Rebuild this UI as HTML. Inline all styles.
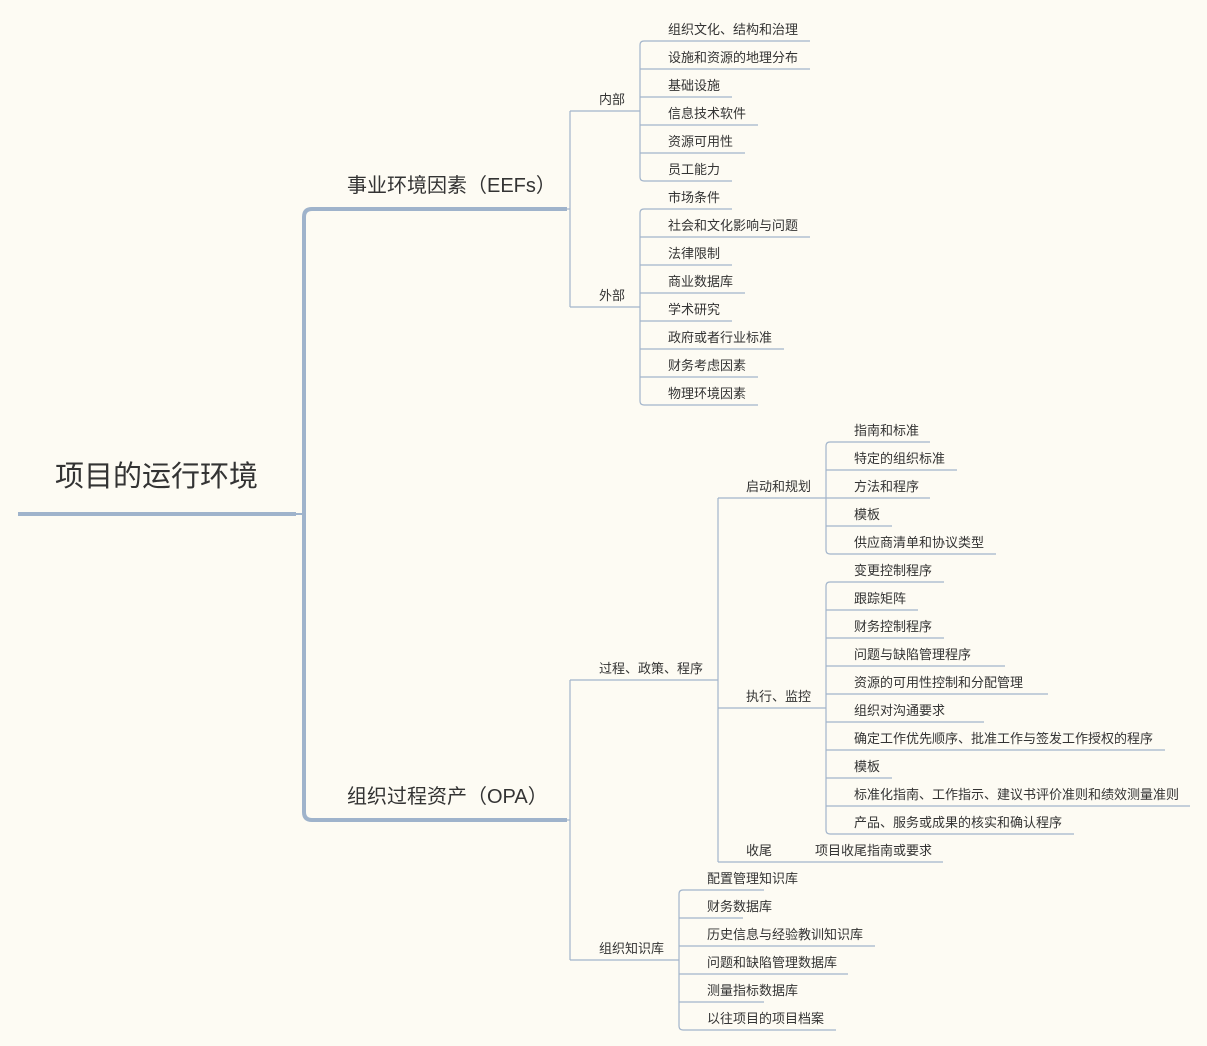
<!DOCTYPE html>
<html><head><meta charset="utf-8"><style>
html,body{margin:0;padding:0;background:#fdfbf3}
svg{display:block}
text{font-family:"Liberation Sans","Noto Sans CJK SC",sans-serif;fill:#333}
</style></head><body>
<svg width="1207" height="1046" viewBox="0 0 1207 1046" xmlns="http://www.w3.org/2000/svg">
<rect width="1207" height="1046" fill="#fdfbf3"/>
<g fill="none" stroke="#9fb3cb" stroke-linecap="butt">
<line x1="18" y1="514" x2="296" y2="514" stroke-width="4"/>
<line x1="296" y1="514" x2="304" y2="514" stroke-width="2"/>
<path d="M330 209 L312 209 Q304 209 304 217 L304 812 Q304 820 312 820 L330 820" stroke-width="4"/>
<line x1="330" y1="209" x2="567" y2="209" stroke-width="4"/>
<line x1="330" y1="820" x2="567" y2="820" stroke-width="4"/>
</g>
<g fill="none" stroke="#a3b5cb" stroke-width="1.2" id="thin"></g>
<text x="55" y="486" font-size="29">项目的运行环境</text>
<text x="347" y="192" font-size="20">事业环境因素（EEFs）</text>
<text x="347" y="803" font-size="20">组织过程资产（OPA）</text>
<g id="labels" font-size="13"></g>
<script>
var NS="http://www.w3.org/2000/svg";
var g=document.getElementById('thin'),L=document.getElementById('labels');
function ln(x1,y1,x2,y2){var e=document.createElementNS(NS,'line');e.setAttribute('x1',x1);e.setAttribute('y1',y1);e.setAttribute('x2',x2);e.setAttribute('y2',y2);g.appendChild(e);}
function tx(x,y,s){var e=document.createElementNS(NS,'text');e.setAttribute('x',x);e.setAttribute('y',y);e.textContent=s;L.appendChild(e);}
function group(bx,ys,items){
 var y0=ys, yl=ys+(items.length-1)*28;
 var p=document.createElementNS(NS,'path');
 p.setAttribute('d','M'+(bx+4)+' '+y0+' Q'+bx+' '+y0+' '+bx+' '+(y0+4)+' L'+bx+' '+(yl-4)+' Q'+bx+' '+yl+' '+(bx+4)+' '+yl);
 g.appendChild(p);
 items.forEach(function(it,i){var y=ys+i*28;ln(bx+(i==0||i==items.length-1?4:0),y,it[1],y);tx(bx+28,y-7,it[0]);});
}
ln(567,209,570,209);ln(570,111,570,307);
ln(570,111,640,111);tx(599,104,'内部');
ln(570,307,640,307);tx(599,300,'外部');
group(640,41,[['组织文化、结构和治理',810],['设施和资源的地理分布',810],['基础设施',732],['信息技术软件',758],['资源可用性',745],['员工能力',732]]);
group(640,209,[['市场条件',732],['社会和文化影响与问题',810],['法律限制',732],['商业数据库',745],['学术研究',732],['政府或者行业标准',784],['财务考虑因素',758],['物理环境因素',758]]);
ln(567,820,570,820);ln(570,680,570,960);
ln(570,680,718,680);tx(599,673,'过程、政策、程序');
ln(718,498,718,862);
ln(718,498,826,498);tx(746,491,'启动和规划');
group(826,442,[['指南和标准',930],['特定的组织标准',957],['方法和程序',930],['模板',892],['供应商清单和协议类型',996]]);
ln(718,708,826,708);tx(746,701,'执行、监控');
group(826,582,[['变更控制程序',944],['跟踪矩阵',918],['财务控制程序',944],['问题与缺陷管理程序',1005],['资源的可用性控制和分配管理',1048],['组织对沟通要求',984],['确定工作优先顺序、批准工作与签发工作授权的程序',1165],['模板',892],['标准化指南、工作指示、建议书评价准则和绩效测量准则',1190],['产品、服务或成果的核实和确认程序',1074]]);
ln(718,862,943,862);tx(746,855,'收尾');tx(815,855,'项目收尾指南或要求');
ln(570,960,679,960);tx(599,953,'组织知识库');
group(679,890,[['配置管理知识库',764],['财务数据库',743],['历史信息与经验教训知识库',875],['问题和缺陷管理数据库',848],['测量指标数据库',764],['以往项目的项目档案',836]]);
</script>
</svg>
</body></html>
